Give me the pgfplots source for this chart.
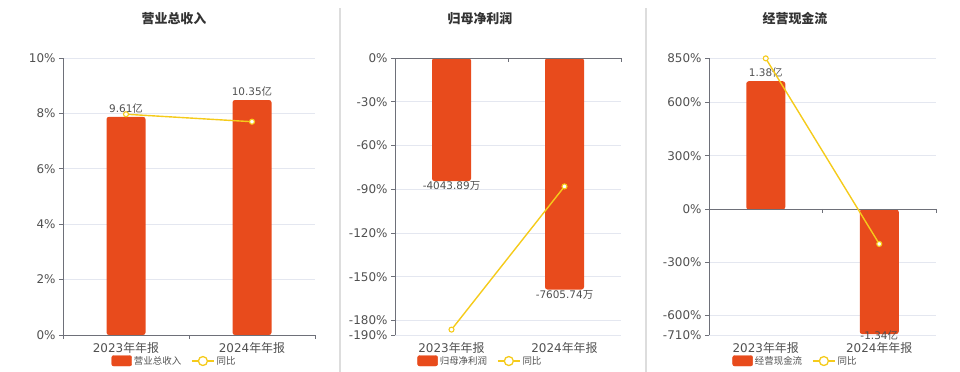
\documentclass[border=0pt]{standalone}
\usepackage{pgfplots}
\pgfplotsset{compat=1.18}
\usepackage{fontspec}
\setmainfont{DejaVu Sans}
\newfontfamily\cjk{Noto Sans CJK SC}
\definecolor{barc}{HTML}{E84B1C}
\definecolor{linec}{HTML}{F5CB1B}
\definecolor{gridc}{HTML}{E4E7F0}
\definecolor{axc}{HTML}{6E7079}
\definecolor{txt}{HTML}{505050}
\definecolor{ttl}{HTML}{333333}
\definecolor{sepc}{HTML}{DDDDDD}
\newcommand\yi{{\cjk 亿}}
\newcommand\wan{{\cjk 万}}
\newcommand\nb{{\cjk 年年报}}
\pgfplotsset{
  panel/.style={scale only axis, xmin=-0.5, xmax=1.5, anchor=south west, height=277bp},
  pctaxis/.style={panel, axis y line*=left, axis x line*=bottom,
    x axis line style={draw=none}, y axis line style={axc, line width=0.8bp},
    xtick={0,1}, major x tick style={draw=none},
    tick align=outside, major tick length=4bp, ytick style={axc, line width=0.8bp},
    ymajorgrids, grid style={gridc, line width=0.8bp},
    ticklabel style={font=\fontsize{12}{14}\selectfont, text=txt},
    xticklabels={2023\nb,2024\nb}},
  baraxis/.style={panel, hide axis},
  barplot/.style={ybar, bar width=39bp, fill=barc, draw=none, rounded corners=2.5bp,
    nodes near coords, point meta=explicit symbolic,
    nodes near coords style={font=\fontsize{10.5}{12}\selectfont, text=txt}},
  neglabel/.style={nodes near coords style={anchor=center, yshift=#1}},
  lineaxis/.style={panel, hide axis, clip=false, legend columns=2,
    legend style={anchor=center, draw=none, fill=none,
      font=\fontsize{9.5}{11}\selectfont, text=txt,
      /tikz/every even column/.append style={column sep=8bp}}},
  lineplot/.style={linec, line width=1.4bp, mark=*, mark size=2.5bp,
    mark options={fill=white, draw=linec, line width=1.1bp},
    legend image code/.code={\draw[linec, line width=1.4bp] (0bp,0bp) -- (22bp,0bp);
      \draw[linec, fill=white, line width=1.3bp] (11bp,0bp) circle (4.5bp);}},
  barlegend/.style={legend image code/.code={\fill[barc, rounded corners=2bp] (0bp,-5bp) rectangle (20bp,5.5bp);}}
}
\begin{document}
\begin{tikzpicture}
\path[use as bounding box] (0bp,0bp) rectangle (960bp,-372bp);
\draw[sepc, line width=1.5bp] (340bp,-8bp) -- (340bp,-372bp);
\draw[sepc, line width=1.5bp] (646bp,-8bp) -- (646bp,-372bp);
\node[font=\cjk\bfseries\fontsize{13}{15}\selectfont, text=ttl] at (174bp,-19bp) {营业总收入};
\node[font=\cjk\bfseries\fontsize{13}{15}\selectfont, text=ttl] at (480bp,-19bp) {归母净利润};
\node[font=\cjk\bfseries\fontsize{13}{15}\selectfont, text=ttl] at (795bp,-19bp) {经营现金流};

% ---------- Panel 1 ----------
\begin{axis}[pctaxis, width=252bp, at={(63bp,-335bp)}, ymin=0, ymax=10,
  ytick={0,2,4,6,8,10}, yticklabels={0\%,2\%,4\%,6\%,8\%,10\%}]
\addplot[draw=none] coordinates {(0,0)};
\end{axis}
\begin{axis}[baraxis, width=252bp, at={(63bp,-335bp)}, ymin=0, ymax=12.2]
\addplot[barplot] coordinates {(0,9.61)[9.61\yi] (1,10.35)[10.35\yi]};
\end{axis}
\begin{axis}[lineaxis, width=252bp, at={(63bp,-335bp)}, ymin=0, ymax=10,
  legend style={at={(0.4425,-0.094)}}]
\draw[axc, line width=0.8bp] (axis cs:-0.5,0) -- (axis cs:1.5,0);
\draw[axc, line width=0.8bp] (axis cs:-0.5,0) -- ++(0bp,-4bp);
\draw[axc, line width=0.8bp] (axis cs:0.5,0) -- ++(0bp,-4bp);
\draw[axc, line width=0.8bp] (axis cs:1.5,0) -- ++(0bp,-4bp);
\addlegendimage{barlegend}
\addlegendentry{\cjk 营业总收入}
\addplot[lineplot] coordinates {(0,7.97) (1,7.70)};
\addlegendentry{\cjk 同比}
\end{axis}

% ---------- Panel 2 ----------
\begin{axis}[pctaxis, width=226bp, at={(395bp,-335bp)}, ymin=-190, ymax=0,
  ytick={-190,-180,-150,-120,-90,-60,-30,0},
  yticklabels={-190\%,-180\%,-150\%,-120\%,-90\%,-60\%,-30\%,0\%}]
\addplot[draw=none] coordinates {(0,0)};
\end{axis}
\begin{axis}[baraxis, width=226bp, at={(395bp,-335bp)}, ymin=-9100, ymax=0]
\addplot[barplot, neglabel=-5bp] coordinates {(0,-4043.89)[-4043.89\wan] (1,-7605.74)[-7605.74\wan]};
\end{axis}
\begin{axis}[lineaxis, width=226bp, at={(395bp,-335bp)}, ymin=-190, ymax=0,
  legend style={at={(0.378,-0.094)}}]
\draw[axc, line width=0.8bp] (axis cs:-0.5,0) -- (axis cs:1.5,0);
\draw[axc, line width=0.8bp] (axis cs:-0.5,0) -- ++(0bp,-4bp);
\draw[axc, line width=0.8bp] (axis cs:0.5,0) -- ++(0bp,-4bp);
\draw[axc, line width=0.8bp] (axis cs:1.5,0) -- ++(0bp,-4bp);
\addlegendimage{barlegend}
\addlegendentry{\cjk 归母净利润}
\addplot[lineplot] coordinates {(0,-186.3) (1,-88.08)};
\addlegendentry{\cjk 同比}
\end{axis}

% ---------- Panel 3 ----------
\begin{axis}[pctaxis, width=227bp, at={(709bp,-335bp)}, ymin=-710, ymax=850,
  ytick={-710,-600,-300,0,300,600,850},
  yticklabels={-710\%,-600\%,-300\%,0\%,300\%,600\%,850\%}]
\addplot[draw=none] coordinates {(0,0)};
\end{axis}
\begin{axis}[baraxis, width=227bp, at={(709bp,-335bp)}, ymin=-1.35, ymax=1.63]
\addplot[barplot, bar shift=0pt] coordinates {(0,1.38)[1.38\yi]};
\addplot[barplot, bar shift=0pt, neglabel=-1bp] coordinates {(1,-1.34)[-1.34\yi]};
\end{axis}
\begin{axis}[lineaxis, width=227bp, at={(709bp,-335bp)}, ymin=-710, ymax=850,
  legend style={at={(0.381,-0.094)}}]
\draw[axc, line width=0.8bp] (axis cs:-0.5,0) -- (axis cs:1.5,0);
\draw[axc, line width=0.8bp] (axis cs:-0.5,0) -- ++(0bp,-4bp);
\draw[axc, line width=0.8bp] (axis cs:0.5,0) -- ++(0bp,-4bp);
\draw[axc, line width=0.8bp] (axis cs:1.5,0) -- ++(0bp,-4bp);
\addlegendimage{barlegend}
\addlegendentry{\cjk 经营现金流}
\addplot[lineplot] coordinates {(0,848) (1,-197.1)};
\addlegendentry{\cjk 同比}
\end{axis}
\end{tikzpicture}
\end{document}
